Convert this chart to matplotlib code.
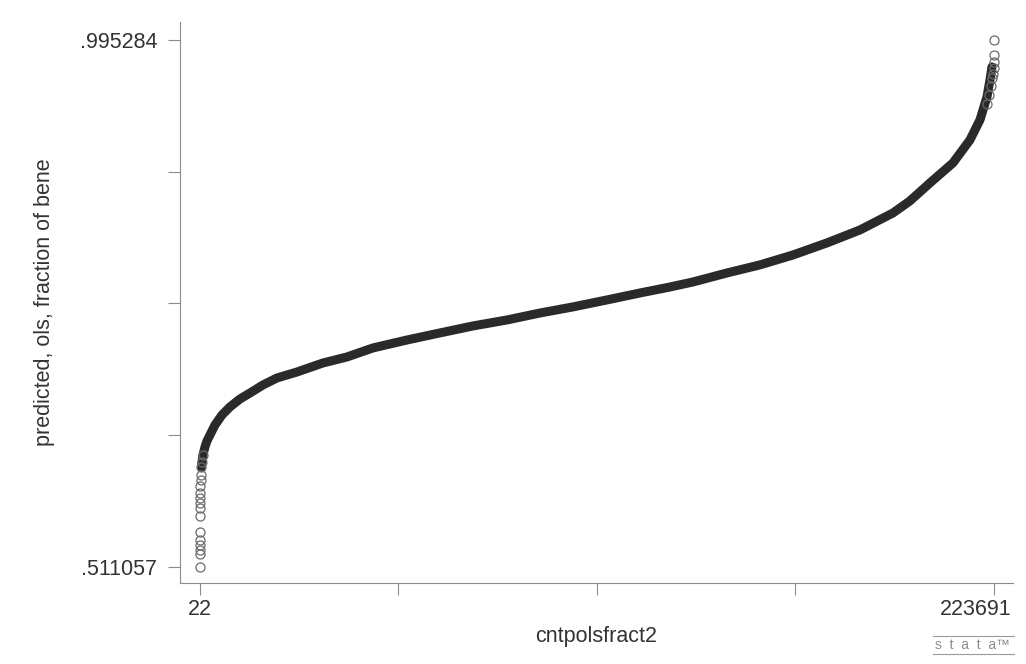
import matplotlib.pyplot as plt
from matplotlib.transforms import ScaledTranslation

# sorted predictions: rank (observation number) vs predicted value
# sparse lower tail, drawn as individual circles
low_rank = [22, 23, 24, 25, 26, 28, 35, 45, 60, 80, 110, 160, 230, 320, 450, 600, 800]
low_pred = [0.5111, 0.5230, 0.5267, 0.5313, 0.5359, 0.5432, 0.5579, 0.5653, 0.5699,
            0.5745, 0.5790, 0.5855, 0.5910, 0.5956, 0.6029, 0.6075, 0.6140]

# dense body of the distribution
body_rank = [450, 600, 867, 1430, 1994, 2839, 4248, 6220, 8473, 11290, 14107, 17769,
             21713, 27347, 34671, 41432, 48756, 58334, 67630, 76926, 86504, 95800,
             105096, 114674, 123970, 132421, 138900, 148478, 157774, 167070, 176648,
             185944, 195240, 200029, 205663, 212142, 216931, 219748, 221720, 222565,
             223128]
body_pred = [0.6029, 0.6075, 0.6140, 0.6213, 0.6268, 0.6323, 0.6415, 0.6507, 0.6581,
             0.6654, 0.6709, 0.6783, 0.6847, 0.6902, 0.6985, 0.7040, 0.7123, 0.7196,
             0.7261, 0.7325, 0.7380, 0.7444, 0.7500, 0.7564, 0.7628, 0.7683, 0.7729,
             0.7812, 0.7886, 0.7977, 0.8088, 0.8207, 0.8363, 0.8474, 0.8639, 0.8823,
             0.9034, 0.9218, 0.9429, 0.9586, 0.9705]

# sparse upper tail
high_rank = [221700, 222300, 222900, 223200, 223450, 223600, 223670, 223688, 223691]
high_pred = [0.9364, 0.9447, 0.9530, 0.9603, 0.9640, 0.9696, 0.9751, 0.9815, 0.995284]

x_ticks = [22, 55939, 111856, 167774, 223691]
x_ticklabels = ['22', '', '', '', '223691']
y_ticks = [0.511057, 0.632114, 0.753171, 0.874227, 0.995284]
y_ticklabels = ['.511057', '', '', '', '.995284']

plt.rcParams['font.family'] = ['Liberation Sans', 'DejaVu Sans']
text_col = '#333333'
axis_col = '#8a8a8a'

fig = plt.figure(figsize=(10.26, 6.64), dpi=100)
ax = fig.add_axes([0.1754, 0.122, 0.8119, 0.845])

ax.plot(body_rank, body_pred, color='#2a2a2a', lw=6.5, solid_capstyle='round',
        solid_joinstyle='round', zorder=2)
ax.plot(low_rank, low_pred, ls='none', marker='o', ms=6.5, mfc='none',
        mec='#6a6a6a', mew=0.9, zorder=3)
ax.plot(high_rank, high_pred, ls='none', marker='o', ms=6.5, mfc='none',
        mec='#6a6a6a', mew=0.9, zorder=3)

ax.set_xlim(-5612, 229043)
ax.set_ylim(0.49636, 1.01182)

ax.set_xticks(x_ticks)
ax.set_xticklabels(x_ticklabels)
ax.set_yticks(y_ticks)
ax.set_yticklabels(y_ticklabels)
ax.tick_params(axis='both', direction='out', length=8.5, width=0.8, color=axis_col,
               labelsize=15.5, labelcolor=text_col)
ax.tick_params(axis='x', pad=3)
ax.tick_params(axis='y', pad=8)

# keep the last x label inside the figure
last = ax.get_xticklabels()[-1]
last.set_transform(last.get_transform() + ScaledTranslation(-0.18, 0, fig.dpi_scale_trans))

for side in ['top', 'right']:
    ax.spines[side].set_visible(False)
for side in ['left', 'bottom']:
    ax.spines[side].set_color(axis_col)
    ax.spines[side].set_linewidth(0.8)

ax.set_xlabel('cntpolsfract2', fontsize=15.5, color=text_col, labelpad=4)
ax.set_ylabel('predicted, ols, fraction of bene', fontsize=15.5, color=text_col, labelpad=18)

# small stata mark in the bottom-right corner
fig.text(0.948, 0.0285, 's  t  a  t  a\u2122', fontsize=10, color='#8a8a8a',
         ha='center', va='center')
fig.add_artist(plt.Line2D([0.909, 0.988], [0.042, 0.042], color='#9a9a9a', lw=0.8))
fig.add_artist(plt.Line2D([0.909, 0.988], [0.015, 0.015], color='#9a9a9a', lw=0.8))

fig.savefig('out.png', dpi=100, facecolor='white')
